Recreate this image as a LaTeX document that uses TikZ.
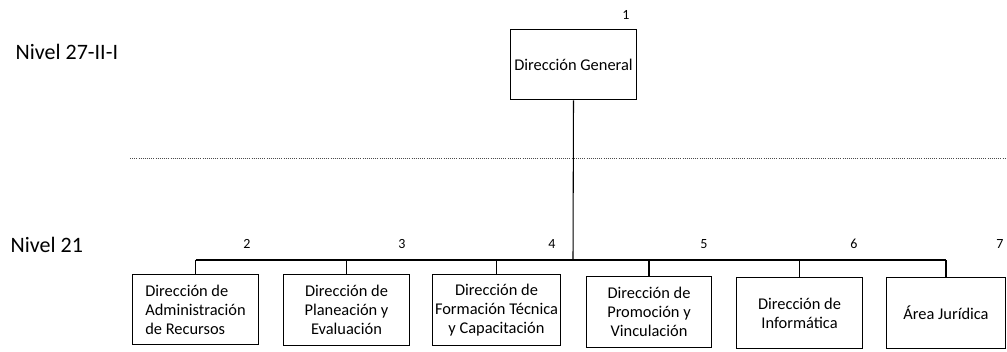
\documentclass[tikz,border=0pt]{standalone}
\usepackage{fontspec}
\setmainfont{Carlito}
\begin{document}
\begin{tikzpicture}[x=0.75pt,y=-0.75pt,
  box/.style={draw,line width=0.8pt,align=center,inner sep=2pt,font=\fontsize{12.3}{14.3}\selectfont,minimum height=53pt},
  num/.style={font=\fontsize{10.5}{12}\selectfont},
  lvl/.style={anchor=west,font=\fontsize{16.5}{18}\selectfont},
  conn/.style={line width=0.8pt}]
\useasboundingbox (0,0) rectangle (1007,352);
\node[lvl] (l1) at (11,52) {Nivel 27-II-I};
\node[lvl] (l2) at (6,245) {Nivel 21};
\node[box,minimum width=95pt] (top) at (573.5,64.5) {Dirección General};
\node[num] (n1) at (626,15) {1};
\node[box,minimum width=94pt,align=left] (b1) at (195.5,309.5) {Dirección de\\Administración\\de Recursos};
\node[box,minimum width=94pt] (b2) at (346.5,310) {Dirección de\\Planeación y\\Evaluación};
\node[box,minimum width=94pt] (b3) at (496.5,310) {Dirección de\\Formación Técnica\\y Capacitación};
\node[box,minimum width=94pt] (b4) at (649,312) {Dirección de\\Promoción y\\Vinculación};
\node[box,minimum width=94pt] (b5) at (799.5,313) {Dirección de\\Informática};
\node[box,minimum width=89pt] (b6) at (946,313) {Área Jurídica};
\node[num] (n2) at (247,244) {2};
\node[num] (n3) at (402,244) {3};
\node[num] (n4) at (552,244) {4};
\node[num] (n5) at (704,244) {5};
\node[num] (n6) at (854,244) {6};
\node[num] (n7) at (1000,244) {7};
\coordinate (bus) at (573,260);
\coordinate (dl) at (130,158);
\coordinate (dr) at (1007,158);
\draw[line width=0.6pt,densely dotted,black!70] (dl) -- (dr);
\draw[conn] (top.south) -- (bus);
\draw[conn] (b1.north |- bus) -- (b6.north |- bus);
\foreach \b in {b1,b2,b3,b4,b5,b6}
  \draw[conn] (\b.north) -- (\b.north |- bus);
\end{tikzpicture}
\end{document}
